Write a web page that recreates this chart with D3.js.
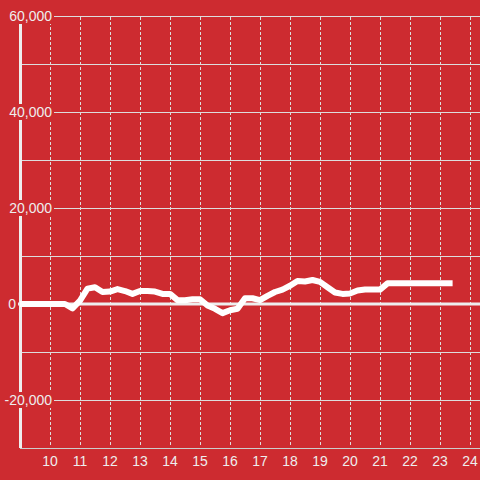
<html>
<head>
<script src="https://d3js.org/d3.v7.min.js"></script>
<style>
body { margin: 0; background: #cd2b30; }
svg { display: block; }
text { font-family: 'Liberation Sans', Arial, sans-serif; }
</style>
</head>
<body>
<svg></svg>
<script>

var width = 480;
var height = 480;
var bg = "#cd2b30";

// Hour of day and value
var hours = [9.0, 10.5, 10.75, 11.0, 11.25, 11.5, 11.75, 12.0, 12.25, 12.5, 12.75,
	13.0, 13.25, 13.5, 13.75, 14.0, 14.25, 14.5, 14.75, 15.0, 15.25, 15.5, 15.75,
	16.0, 16.25, 16.5, 16.75, 17.0, 17.25, 17.5, 17.75, 18.0, 18.25, 18.5, 18.75,
	19.0, 19.25, 19.5, 19.75, 20.0, 20.25, 20.5, 20.75, 21.0, 21.25, 21.5, 23.42];
var values = [0, 0, -900, 700, 3200, 3500, 2500, 2600, 3100, 2700, 2100,
	2700, 2700, 2600, 2100, 2100, 800, 800, 1000, 1000, -300, -1000, -1900,
	-1300, -1000, 1200, 1200, 800, 1700, 2500, 3000, 3800, 4800, 4700, 5000,
	4600, 3500, 2400, 2100, 2200, 2800, 3000, 3000, 3000, 4300, 4300, 4300];

var xTicks = [10, 11, 12, 13, 14, 15, 16, 17, 18, 19, 20, 21, 22, 23, 24];
var yGrid = [60000, 50000, 40000, 30000, 20000, 10000, -10000, -20000, -30000];
var yLabels = [60000, 40000, 20000, -20000];

var data = hours.map(function (h, i) { return { h: h, v: values[i] }; });

var xScale = d3.scaleLinear().domain([9, 24.333]).range([20, 480]);
var yScale = d3.scaleLinear().domain([-30000, 60000]).range([448, 16]);
// plain hyphen for the minus sign
var fmt = function (d) { return (d < 0 ? "-" : "") + d3.format(",")(Math.abs(d)); };

var svg = d3.select("svg").attr("width", width).attr("height", height);

svg.append("rect").attr("width", width).attr("height", height).style("fill", bg);

// vertical dotted grid
svg.selectAll(".vgrid").data(xTicks).enter().append("line")
.attr("x1", function (d) { return xScale(d) + 0.5; })
.attr("x2", function (d) { return xScale(d) + 0.5; })
.attr("y1", 17).attr("y2", 446)
.style("stroke", "#dddddd")
.style("stroke-width", 1)
.style("stroke-dasharray", "3,2");

// horizontal grid
svg.selectAll(".hgrid").data(yGrid).enter().append("line")
.attr("x1", 20).attr("x2", width)
.attr("y1", function (d) { return Math.round(yScale(d)) + 0.5; })
.attr("y2", function (d) { return Math.round(yScale(d)) + 0.5; })
.style("stroke", function (d) { return d == -30000 ? "#cccccc" : "#dddddd"; })
.style("stroke-width", 1);

// y axis line
svg.append("line")
.attr("x1", 20.5).attr("x2", 20.5)
.attr("y1", yScale(60000)).attr("y2", yScale(-30000))
.style("stroke", "#eeeeee")
.style("stroke-width", 3);

// zero line
svg.append("line")
.attr("x1", 18).attr("x2", width)
.attr("y1", yScale(0)).attr("y2", yScale(0))
.style("stroke", "#eeeeee")
.style("stroke-width", 3);

// y labels with background that hides the lines behind them
var yl = svg.selectAll(".ylab").data(yLabels).enter().append("g");
yl.append("rect")
.attr("x", 0).attr("width", 54)
.attr("y", function (d) { return yScale(d) - 8; })
.attr("height", 16)
.style("fill", bg);
yl.append("text")
.attr("x", 52)
.attr("y", function (d) { return yScale(d); })
.attr("dy", "0.35em")
.attr("text-anchor", "end")
.style("font-size", "14px")
.style("fill", "#eeeeee")
.text(function (d) { return fmt(d); });

svg.append("text")
.attr("x", 16).attr("y", yScale(0))
.attr("dy", "0.35em")
.attr("text-anchor", "end")
.style("font-size", "14px")
.style("fill", "#eeeeee")
.text("0");

// x labels
svg.selectAll(".xlab").data(xTicks).enter().append("text")
.attr("x", function (d) { return xScale(d); })
.attr("y", 466)
.attr("text-anchor", "middle")
.style("font-size", "14px")
.style("fill", "#eeeeee")
.text(function (d) { return d; });

// data line
var line = d3.line()
.x(function (d) { return xScale(d.h); })
.y(function (d) { return yScale(d.v); });

svg.append("path")
.datum(data)
.attr("d", line)
.style("fill", "none")
.style("stroke", "#ffffff")
.style("stroke-width", 6)
.style("stroke-linejoin", "round");

</script>
</body>
</html>
